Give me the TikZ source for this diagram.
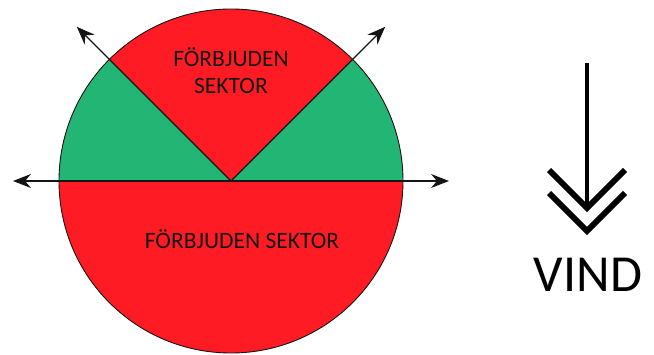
\documentclass[tikz,border=0pt]{standalone}
\usepackage{xcolor}
\usepackage{tikz}
\usepackage{fontspec}
\setmainfont{Carlito}
\usetikzlibrary{arrows.meta,calc}
\definecolor{forbidden}{RGB}{255,27,36}
\definecolor{allowed}{RGB}{35,181,116}
\definecolor{ink}{RGB}{20,20,20}

\begin{document}
\begin{tikzpicture}[
    x=1pt, y=1pt,
    sector/.style={draw=ink, line width=0.9pt},
    label text/.style={text=ink, font=\fontsize{23.5}{27}\selectfont, align=center, inner sep=0pt},
    arrow/.style={-{Stealth[length=18pt, width=14pt, inset=6pt]}, line width=1.4pt, draw=ink},
    chevron/.style={line width=6pt, line join=miter, draw=black}
]
    \useasboundingbox (0,0) rectangle (654,354);
    % Circle and sectors
    \coordinate (c) at (231,173);
    \fill[forbidden] (c) circle[radius=172];
    \fill[allowed] (c) -- +(180:172) arc[start angle=180, end angle=135, radius=172] -- cycle;
    \fill[allowed] (c) -- +(0:172) arc[start angle=0, end angle=45, radius=172] -- cycle;
    \draw[sector] (c) circle[radius=172];

    % Sector borders
    \coordinate (west) at ($(c)+(180:218)$);
    \coordinate (east) at ($(c)+(0:218)$);
    \coordinate (northwest) at ($(c)+(135:218)$);
    \coordinate (northeast) at ($(c)+(45:218)$);
    \draw[arrow] (c) -- (west);
    \draw[arrow] (c) -- (east);
    \draw[arrow] (c) -- (northwest);
    \draw[arrow] (c) -- (northeast);

    % Labels
    \node[label text] (upper) at (231,283) {FÖRBJUDEN\\SEKTOR};
    \node[label text] (lower) at (242,115) {FÖRBJUDEN SEKTOR};

    % Wind
    \coordinate (windtop) at (587,291);
    \coordinate (windend) at (587,146);
    \draw[line width=4.5pt, draw=black] (windtop) -- (windend);
    \draw[chevron] (549,184) -- (587,146) -- (625,184);
    \draw[chevron] (549,161) -- (587,123) -- (625,161);
    \node[font=\fontsize{52}{60}\selectfont, inner sep=0pt] (wind) at (588,79) {VIND};
\end{tikzpicture}
\end{document}
